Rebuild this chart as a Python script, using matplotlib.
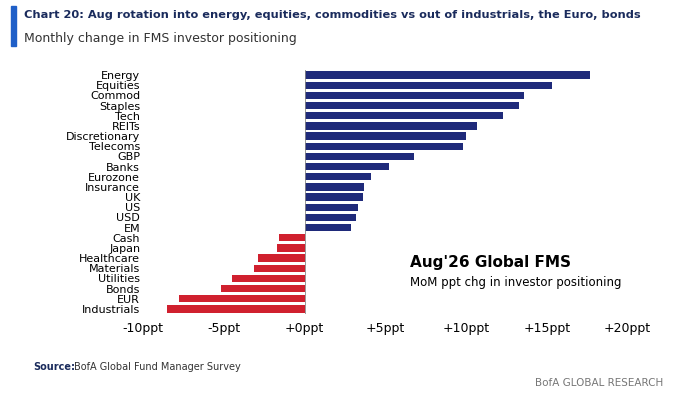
import matplotlib.pyplot as plt
from matplotlib.patches import Rectangle

categories = ["Energy", "Equities", "Commod", "Staples", "Tech", "REITs", "Discretionary",
              "Telecoms", "GBP", "Banks", "Eurozone", "Insurance", "UK", "US", "USD", "EM",
              "Cash", "Japan", "Healthcare", "Materials", "Utilities", "Bonds", "EUR", "Industrials"]
values = [17.7, 15.3, 13.6, 13.3, 12.3, 10.7, 10.0, 9.8, 6.8, 5.2, 4.1, 3.7, 3.6, 3.3, 3.2, 2.9,
          -1.6, -1.7, -2.9, -3.1, -4.5, -5.2, -7.8, -8.5]
ticks = [-10, -5, 0, 5, 10, 15, 20]
tick_labels = ["-10ppt", "-5ppt", "+0ppt", "+5ppt", "+10ppt", "+15ppt", "+20ppt"]

navy = "#1F2A7A"
red = "#D0202E"

fig = plt.figure(figsize=(6.73, 4.0), dpi=100)
ax = fig.add_axes([0.2125, 0.215, 0.72, 0.61])
y = list(range(len(categories)))
colors = [navy if v > 0 else red for v in values]
ax.barh(y, values, height=0.72, color=colors)
ax.set_ylim(len(categories) - 0.5, -0.5)
ax.set_xlim(-10, 20)
ax.set_yticks(y)
ax.set_yticklabels(categories, fontsize=8)
ax.tick_params(axis="y", length=0, pad=2)
ax.set_xticks(ticks)
ax.set_xticklabels(tick_labels, fontsize=9)
ax.tick_params(axis="x", length=0, pad=6)
ax.axvline(0, color="#888888", lw=0.6)
for s in ax.spines.values():
    s.set_visible(False)

ax.text(6.5, 18.9, "Aug'26 Global FMS", fontsize=11, fontweight="bold")
ax.text(6.5, 20.7, "MoM ppt chg in investor positioning", fontsize=8.5)

fig.patches.append(Rectangle((0.016, 0.885), 0.008, 0.1, transform=fig.transFigure, color="#1F5FC8"))
fig.text(0.035, 0.955, "Chart 20: Aug rotation into energy, equities, commodities vs out of industrials, the Euro, bonds",
         fontsize=8.2, fontweight="bold", color="#1A2B5C", family="Liberation Sans Narrow")
fig.text(0.035, 0.895, "Monthly change in FMS investor positioning", fontsize=9, color="#333333")
fig.text(0.05, 0.075, "Source:", fontsize=7, fontweight="bold", color="#1A2B5C")
fig.text(0.11, 0.075, "BofA Global Fund Manager Survey", fontsize=7, color="#333333")
fig.text(0.985, 0.035, "BofA GLOBAL RESEARCH", fontsize=7.5, color="#777777", ha="right")
fig.savefig("out.png", dpi=100)
